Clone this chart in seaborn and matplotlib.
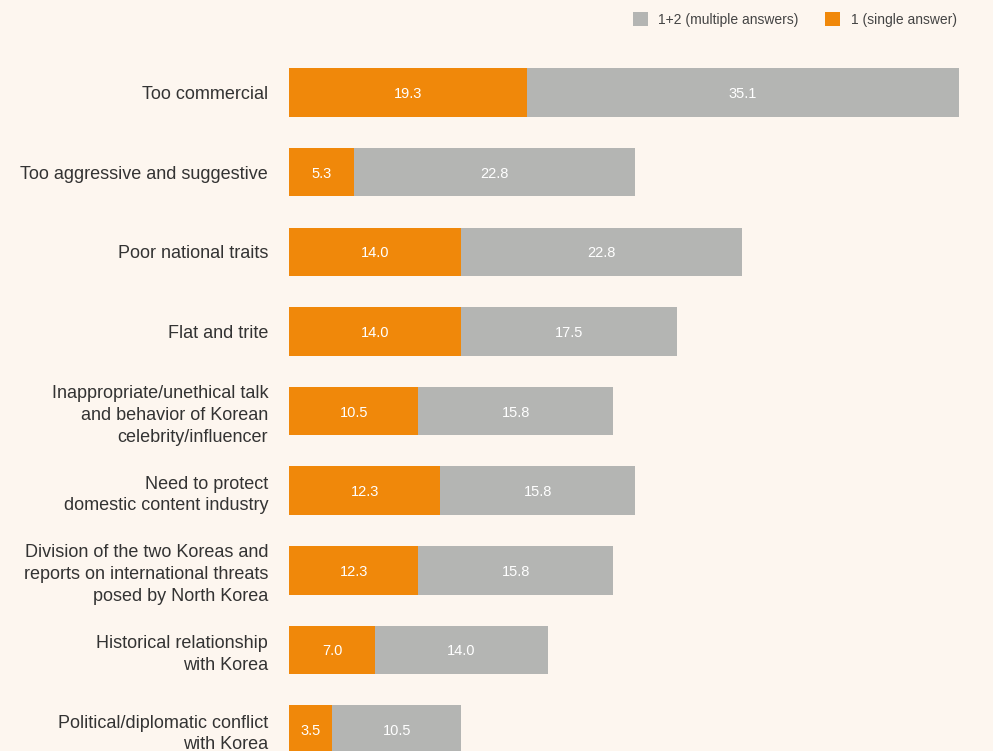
import matplotlib
matplotlib.use("Agg")
import matplotlib.pyplot as plt
from matplotlib.patches import Patch
import seaborn as sns
import pandas as pd

categories = [
    "Too commercial",
    "Too aggressive and suggestive",
    "Poor national traits",
    "Flat and trite",
    "Inappropriate/unethical talk\nand behavior of Korean\ncelebrity/influencer",
    "Need to protect\ndomestic content industry",
    "Division of the two Koreas and\nreports on international threats\nposed by North Korea",
    "Historical relationship\nwith Korea",
    "Political/diplomatic conflict\nwith Korea",
]
# bar lengths as drawn in the reference
single = [19.3, 5.3, 14.0, 14.0, 10.5, 12.3, 10.5, 7.0, 3.5]
multiple = [35.1, 22.8, 22.8, 17.5, 15.8, 15.8, 15.8, 14.0, 10.5]
# value labels as printed in the reference
single_labels = ["19.3", "5.3", "14.0", "14.0", "10.5", "12.3", "12.3", "7.0", "3.5"]
multiple_labels = ["35.1", "22.8", "22.8", "17.5", "15.8", "15.8", "15.8", "14.0", "10.5"]
legend_labels = ["1+2 (multiple answers)", "1 (single answer)"]

BG = "#FDF6EF"
ORANGE = "#F0880A"
GREY = "#B4B5B3"
TEXT = "#333333"

df = pd.DataFrame({"cat": categories, "single": single, "multiple": multiple})
df["total"] = df["single"] + df["multiple"]

sns.set_theme(style="white")
plt.rcParams["font.family"] = ["Liberation Sans", "DejaVu Sans"]

fig = plt.figure(figsize=(9.93, 7.51), dpi=100, facecolor=BG)
ax = fig.add_axes([289 / 993, 0, (959 - 289) / 993, (751 - 52) / 751])
ax.set_facecolor(BG)

sns.barplot(data=df, x="total", y="cat", color=GREY, width=0.61, ax=ax,
            saturation=1, orient="h", linewidth=0, edgecolor="none")
sns.barplot(data=df, x="single", y="cat", color=ORANGE, width=0.61, ax=ax,
            saturation=1, orient="h", linewidth=0, edgecolor="none")

for i, (s, m) in enumerate(zip(single, multiple)):
    ax.text(s / 2, i, single_labels[i], ha="center", va="center_baseline",
            color="white", fontsize=10.5)
    ax.text(s + m / 2, i, multiple_labels[i], ha="center", va="center_baseline",
            color="white", fontsize=10.5)

ax.set_xlim(0, 54.4)
ax.set_ylim(8.27, -0.51)
ax.set_xlabel("")
ax.set_ylabel("")
ax.set_xticks([])
ax.tick_params(axis="y", length=0, pad=15, labelsize=13, labelcolor=TEXT)
for lbl in ax.get_yticklabels():
    lbl.set_linespacing(1.36)
for sp in ax.spines.values():
    sp.set_visible(False)

handles = [Patch(facecolor=GREY, edgecolor="none"), Patch(facecolor=ORANGE, edgecolor="none")]
fig.legend(handles, legend_labels, loc="upper right", bbox_to_anchor=(0.976, 1.0),
           ncol=2, frameon=False, fontsize=10, handlelength=1.08, handleheight=1.08,
           handletextpad=0.75, columnspacing=1.9, labelcolor="#444444")

fig.savefig("out.png", dpi=100, facecolor=BG)
